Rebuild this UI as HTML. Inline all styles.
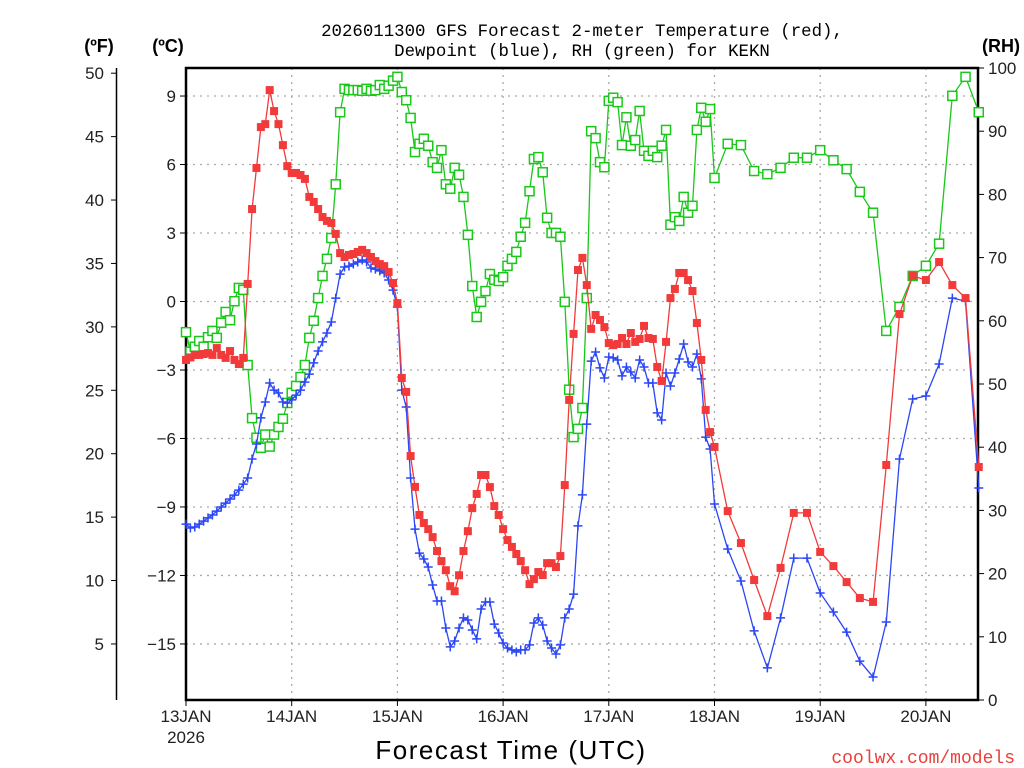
<!DOCTYPE html>
<html><head><meta charset="utf-8"><style>
html,body{margin:0;padding:0;background:#fff;}
svg{display:block;}
text{font-family:"Liberation Sans",sans-serif;}
.mono{font-family:"Liberation Mono",monospace;}
</style></head><body>
<svg id="chart" width="1024" height="768" viewBox="0 0 1024 768" xmlns="http://www.w3.org/2000/svg">
<text class="mono" x="582" y="36" font-size="17.4" text-anchor="middle" fill="#000">2026011300 GFS Forecast 2-meter Temperature (red),</text>
<text class="mono" x="582" y="56" font-size="17.4" text-anchor="middle" fill="#000">Dewpoint (blue), RH (green) for KEKN</text>
<text x="99" y="52" font-size="18" font-weight="bold" text-anchor="middle">(ºF)</text>
<text x="168" y="52" font-size="18" font-weight="bold" text-anchor="middle">(ºC)</text>
<text x="1001" y="52" font-size="18" font-weight="bold" text-anchor="middle">(RH)</text>
<g id="grid"></g>
<g id="axes"></g>
<g id="series"></g>
<text x="511" y="759" font-size="26" text-anchor="middle" letter-spacing="1.5">Forecast Time (UTC)</text>
<text class="mono" x="1015" y="763" font-size="18" text-anchor="end" fill="#e8403a">coolwx.com/models</text>
</svg>
<script>
const hoursA = [0,1,2,3,4,5,6,7,8,9,10,11,12,13,14,15,16,17,18,19,20,21,22,23,24,25,26,27,28,29,30,31,32,33,34,35,36,37,38,39,40,41,42,43,44,45,46,47,48,49,50,51,52,53,54,55,56,57,58,59,60,61,62,63,64,65,66,67,68,69,70,71,72,73,74,75,76,77,78,79,80,81,82,83,84,85,86,87,88,89,90,91,92,93,94,95,96,97,98,99,100,101,102,103,104,105,106,107,108,109,110,111,112,113,114,115,116,117,118,119,120,123,126,129,132,135,138,141,144,147,150,153,156,159,162,165,168,171,174,177,180];
const tempC = [-2.56,-2.45,-2.34,-2.34,-2.30,-2.26,-2.34,-2.04,-2.34,-2.47,-2.17,-2.56,-2.74,-2.47,0.77,4.05,5.85,7.64,7.77,9.26,8.34,7.77,6.85,5.93,5.63,5.63,5.54,5.37,4.58,4.36,4.05,3.70,3.53,3.44,2.96,2.12,1.95,2.04,2.08,2.17,2.26,2.12,1.95,1.77,1.64,1.55,1.29,0.81,-0.07,-3.35,-3.96,-6.77,-8.12,-9.35,-9.70,-9.97,-10.32,-10.93,-11.37,-11.77,-12.47,-12.69,-11.99,-10.93,-10.06,-9.05,-8.43,-7.60,-7.60,-8.13,-8.96,-9.35,-9.97,-10.45,-10.75,-11.06,-11.37,-11.77,-12.38,-12.16,-11.85,-11.98,-11.46,-11.46,-11.63,-11.15,-8.04,-4.31,-1.42,1.38,1.91,0.72,-1.20,-0.59,-0.81,-1.12,-1.82,-1.91,-1.86,-1.60,-1.86,-1.38,-1.77,-1.64,-1.07,-1.60,-1.64,-2.87,-3.48,-1.77,0.15,0.55,1.25,1.25,0.94,0.46,-0.94,-2.56,-4.75,-5.72,-6.37,-9.18,-10.58,-12.20,-13.78,-11.67,-9.26,-9.26,-10.97,-11.59,-12.29,-12.99,-13.16,-7.16,-0.55,1.12,0.94,1.73,0.72,0.15,-7.25];
const dewC = [-9.75,-9.92,-9.88,-9.75,-9.62,-9.48,-9.35,-9.18,-9.00,-8.83,-8.65,-8.48,-8.26,-8.00,-7.73,-6.90,-6.24,-5.10,-4.40,-3.57,-3.88,-4.01,-4.40,-4.45,-4.31,-4.10,-3.88,-3.53,-3.18,-2.69,-2.17,-1.77,-1.38,-0.90,0.15,1.20,1.51,1.55,1.64,1.73,1.82,1.73,1.47,1.42,1.34,1.25,0.94,0.50,-0.24,-3.88,-4.62,-7.73,-9.97,-11.02,-11.28,-11.63,-12.42,-13.12,-13.12,-14.30,-15.13,-14.87,-14.30,-13.86,-13.95,-14.39,-14.78,-13.47,-13.16,-13.16,-14.13,-14.52,-14.96,-15.18,-15.26,-15.35,-15.26,-15.26,-15.04,-14.08,-13.86,-14.17,-14.87,-15.18,-15.44,-15.04,-13.86,-13.47,-12.82,-9.83,-8.47,-5.37,-2.61,-2.21,-2.91,-3.35,-2.43,-2.47,-2.56,-3.26,-2.87,-3.09,-3.35,-2.56,-2.87,-3.57,-3.57,-4.88,-5.19,-3.13,-3.70,-3.13,-2.52,-1.86,-2.65,-2.87,-2.30,-3.39,-5.94,-6.46,-8.87,-10.84,-12.24,-14.43,-16.05,-13.86,-11.24,-11.24,-12.77,-13.60,-14.48,-15.75,-16.45,-14.04,-6.90,-4.27,-4.14,-2.74,0.15,0.02,-8.17];
const rhPct = [58.2,55.1,55.9,56.8,55.9,57.4,58.4,57.3,59.7,61.4,60.1,63.1,65.2,64.9,53.0,44.6,41.5,39.9,42.0,40.1,42.0,43.2,44.5,47.0,48.6,49.7,51.1,53.0,57.3,60.0,63.6,67.1,69.8,73.1,81.6,93.0,96.7,96.5,96.5,96.5,96.4,96.7,96.4,96.5,97.3,96.7,97.2,98.0,98.6,96.2,94.9,92.1,86.7,88.0,88.8,87.7,85.1,84.2,87.0,81.6,80.9,84.2,83.1,79.6,73.6,65.5,60.6,63.0,64.7,67.4,66.5,66.3,66.9,68.7,69.8,70.9,73.3,75.5,80.5,85.6,85.9,83.5,76.3,73.9,73.9,73.3,63.0,49.1,41.6,42.9,46.2,63.6,90.0,88.9,85.1,84.3,94.8,95.3,94.6,87.8,92.2,87.7,88.6,93.2,86.9,86.1,86.9,85.9,87.7,90.2,75.2,76.4,75.8,79.6,77.1,78.2,90.2,93.7,91.5,93.5,82.6,88.0,87.8,83.7,83.2,84.2,85.8,85.8,87.0,85.4,84.0,80.4,77.1,58.4,62.2,67.1,68.7,72.2,95.6,98.6,93.0];
const dayLabels = ["13JAN","14JAN","15JAN","16JAN","17JAN","18JAN","19JAN","20JAN"];
const celsiusTicks = [9,6,3,0,-3,-6,-9,-12,-15];
const fahrenheitTicks = [50,45,40,35,30,25,20,15,10,5];
const rhTicks = [100,90,80,70,60,50,40,30,20,10,0];

const NS="http://www.w3.org/2000/svg";
const L=186,R=978,T=68,B=700;
const xScale=h=>L+h*(105.7/24);
const yC=c=>301.5-c*22.83;
const yF=f=>yC((f-32)/1.8);
const yRH=r=>B-r*(B-T)/100;
function mk(tag,attrs,parent){const e=document.createElementNS(NS,tag);for(const k in attrs)e.setAttribute(k,attrs[k]);parent.appendChild(e);return e;}
const grid=document.getElementById('grid'),axes=document.getElementById('axes'),ser=document.getElementById('series');

celsiusTicks.forEach(c=>{
  const y=yC(c);
  const g=mk('line',{x1:L,x2:R,y1:y,y2:y,stroke:'#aaa','stroke-width':1.3,'stroke-dasharray':'2 5'},grid);
  
  
  const t=mk('line',{x1:L-6,x2:L,y1:y,y2:y,stroke:'#000','stroke-width':1},axes);
  
  
  const tx=mk('text',{x:L-10,y:y+6,'font-size':17,'text-anchor':'end',fill:'#222'},axes);
  tx.textContent=c<0?'\u2212'+Math.abs(c):String(c);
  
  
});
dayLabels.forEach((d,i)=>{
  const x=xScale(i*24);
  if(i>0){const g=mk('line',{x1:x,x2:x,y1:T,y2:B,stroke:'#aaa','stroke-width':1.3,'stroke-dasharray':'2 5'},grid);
  
  }
  const t=mk('line',{x1:x,x2:x,y1:B,y2:B+6,stroke:'#000','stroke-width':1},axes);
  
  
  const tx=mk('text',{x:x,y:B+22,'font-size':17,'text-anchor':'middle',fill:'#222'},axes);
  tx.textContent=d;
  
  
});
const yr=mk('text',{x:L,y:B+43,'font-size':17,'text-anchor':'middle',fill:'#222'},axes);
yr.textContent='2026';



const fl=mk('line',{x1:116.5,x2:116.5,y1:T,y2:B,stroke:'#000','stroke-width':1.5},axes);


fahrenheitTicks.forEach(f=>{
  const y=yF(f);
  const t=mk('line',{x1:111,x2:117,y1:y,y2:y,stroke:'#000','stroke-width':1},axes);
  
  
  const tx=mk('text',{x:104,y:y+6,'font-size':17,'text-anchor':'end',fill:'#222'},axes);
  tx.textContent=String(f);
  
  
});
rhTicks.forEach(r=>{
  const y=yRH(r);
  const t=mk('line',{x1:R,x2:R+6,y1:y,y2:y,stroke:'#000','stroke-width':1},axes);
  
  
  const tx=mk('text',{x:R+10,y:y+6,'font-size':17,'text-anchor':'start',fill:'#222'},axes);
  tx.textContent=String(r);
  
  
});
const frame=mk('rect',{x:L,y:T,width:R-L,height:B-T,fill:'none',stroke:'#000','stroke-width':2.5},axes);



function series(vals,yfn,color,marker,name){
  const g=mk('g',{},ser);
  
  
  const pts=vals.map((v,i)=>xScale(hoursA[i]).toFixed(1)+','+yfn(v).toFixed(1)).join(' ');
  const pl=mk('polyline',{points:pts,fill:'none',stroke:color,'stroke-width':1.3},g);
  
  
  vals.forEach((v,i)=>{
    const x=xScale(hoursA[i]),y=yfn(v);let m;
    if(marker==='fill'){m=mk('rect',{x:x-4,y:y-4,width:8,height:8,fill:color},g);}
    else if(marker==='open'){m=mk('rect',{x:x-4.5,y:y-4.5,width:9,height:9,fill:'#fff',stroke:color,'stroke-width':1.5},g);}
    else{m=mk('path',{d:`M${x-4.5},${y}H${x+4.5}M${x},${y-4.5}V${y+4.5}`,stroke:color,'stroke-width':1.5,fill:'none'},g);}
    
    
  });
}
series(rhPct,yRH,'#19c819','open','rh');
series(dewC,yC,'#2a46f5','plus','dewpoint');
series(tempC,yC,'#f23a3a','fill','temperature');
</script>
</body></html>
